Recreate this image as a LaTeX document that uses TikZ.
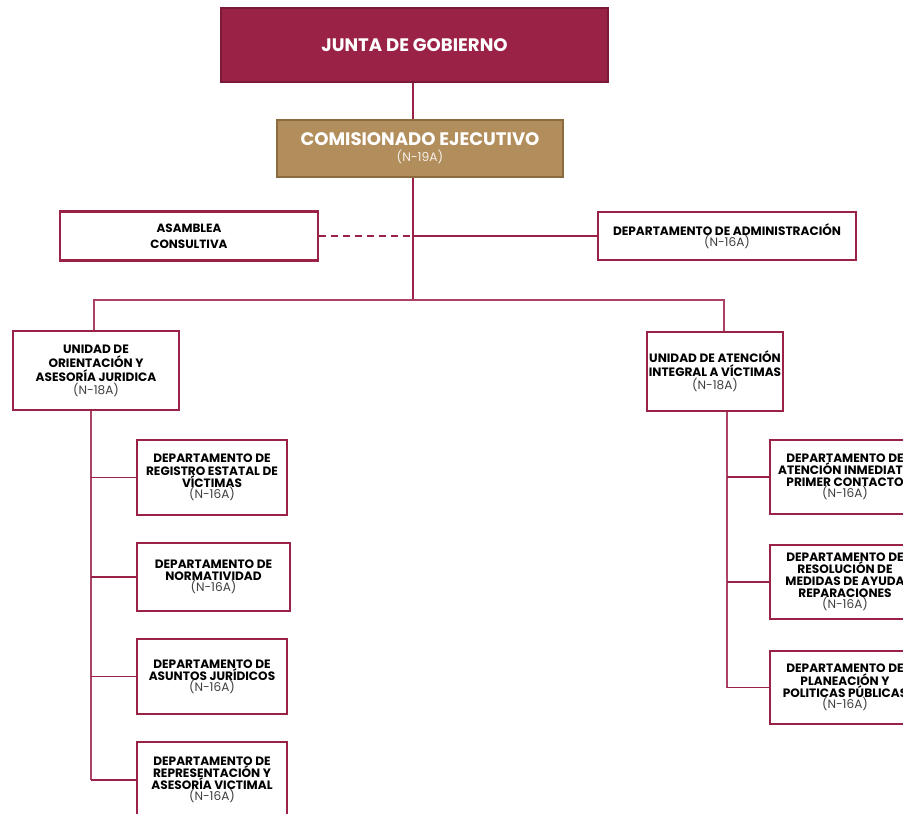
\documentclass[tikz,border=0pt]{standalone}
\usepackage{fontspec}
\setmainfont{Poppins}
\usepackage{tikz}
\usetikzlibrary{positioning}
\definecolor{guinda}{HTML}{9B2247}
\definecolor{guindaosc}{HTML}{7A1A38}
\definecolor{dorado}{HTML}{B38E5D}
\definecolor{doradoosc}{HTML}{8C6B3F}
\tikzstyle{cabeza} = [rectangle, inner sep=0pt, align=center, text=white, font=\bfseries\fontsize{10.3}{12}\selectfont]
\tikzstyle{caja} = [rectangle, draw=guinda, line width=1.3pt, fill=white, inner sep=0pt, align=center]
\tikzstyle{unidad} = [caja, minimum height=79*0.02cm, font=\bfseries\fontsize{6.9}{7.9}\selectfont]
\tikzstyle{depto} = [caja, minimum width=150*0.02cm, font=\bfseries\fontsize{6.9}{6.9}\selectfont]
\tikzstyle{linea} = [guinda, line width=1pt]
\tikzstyle{lineafina} = [guinda!85, line width=0.7pt]
\newcommand{\nivel}[1]{\\[-0.5pt]{\mdseries\color{black!75}(#1)}}

\begin{document}
\begin{tikzpicture}[x=0.02cm, y=-0.02cm]
	\useasboundingbox (0,0) rectangle (903,814);
	\clip (0,0) rectangle (903,814);
	
	\node (junta) [cabeza, fill=guinda, draw=guindaosc, line width=1.2pt, minimum width=387*0.02cm, minimum height=74*0.02cm] at (414.5,45) {JUNTA DE GOBIERNO};
	\node (comis) [cabeza, fill=dorado, draw=doradoosc, line width=1.2pt, minimum width=286*0.02cm, minimum height=57*0.02cm] at (420,148.5) {
		COMISIONADO EJECUTIVO\\[-3pt]
		{\mdseries\fontsize{7}{8}\selectfont\color{white!85!dorado}(N-19A)}};
	
	\node (asamblea) [caja, minimum width=258*0.02cm, minimum height=49*0.02cm, font=\bfseries\fontsize{6.8}{9}\selectfont] at (189,236) {
		ASAMBLEA\\CONSULTIVA};
	\node (admin) [caja, minimum width=258*0.02cm, minimum height=48*0.02cm, font=\bfseries\fontsize{6.9}{6.9}\selectfont] at (727,236) {
		DEPARTAMENTO DE ADMINISTRACIÓN\nivel{N-16A}};
	
	\node (orienta) [unidad, minimum width=166*0.02cm] at (96,370.5) {
		UNIDAD DE\\ORIENTACIÓN Y\\ASESORÍA JURIDICA\nivel{N-18A}};
	\node (atencion) [unidad, minimum width=136*0.02cm] at (715,371.5) {
		UNIDAD DE ATENCIÓN\\INTEGRAL A VÍCTIMAS\nivel{N-18A}};
	
	% departamentos de la unidad de orientacion
	\node (registro) [depto, minimum height=75*0.02cm] at (212,477.5) {
		DEPARTAMENTO DE\\REGISTRO ESTATAL DE\\VÍCTIMAS\nivel{N-16A}};
	\node (normas) [depto, minimum width=153*0.02cm, minimum height=68*0.02cm] at (213.5,577) {
		DEPARTAMENTO DE\\NORMATIVIDAD\nivel{N-16A}};
	\node (asuntos) [depto, minimum height=75*0.02cm] at (212,676.5) {
		DEPARTAMENTO DE\\ASUNTOS JURÍDICOS\nivel{N-16A}};
	\node (represent) [depto, minimum height=76*0.02cm] at (212,780) {
		DEPARTAMENTO DE\\REPRESENTACIÓN Y\\ASESORÍA VICTIMAL\nivel{N-16A}};
	
	% departamentos de la unidad de atencion
	\node (inmediata) [depto, minimum height=74*0.02cm] at (845,477) {
		DEPARTAMENTO DE\\ATENCIÓN INMEDIATA\\PRIMER CONTACTO\nivel{N-16A}};
	\node (medidas) [depto, minimum height=74*0.02cm] at (845,582) {
		DEPARTAMENTO DE\\RESOLUCIÓN DE\\MEDIDAS DE AYUDA\\REPARACIONES\nivel{N-16A}};
	\node (planea) [depto, minimum height=73*0.02cm] at (845,687.5) {
		DEPARTAMENTO DE\\PLANEACIÓN Y\\POLITICAS PÚBLICAS\nivel{N-16A}};
	
	\coordinate (bus) at (413,300);
	\coordinate (lbus) at (94,300);
	\coordinate (rbus) at (724,300);
	\coordinate (lspine) at (91,0);
	\coordinate (rspine) at (727,0);
	
	\draw [linea, line width=1.2pt] (junta.south -| bus) -- (comis.north -| bus);
	\draw [linea] (comis.south -| bus) -- (bus);
	\draw [linea, dash pattern=on 4pt off 2.8pt] (asamblea.east) -- (asamblea.east -| bus);
	\draw [linea] (asamblea.east -| bus) -- (admin.west);
	\draw [lineafina] (lbus |- orienta.north) -- (lbus) -- (rbus) -- (rbus |- atencion.north);
	
	\draw [lineafina] (lspine |- orienta.south) -- (lspine |- represent.west);
	\foreach \d in {registro, normas, asuntos, represent}
		\draw [linea] (lspine |- \d.west) -- (\d.west);
	\draw [lineafina] (rspine |- atencion.south) -- (rspine |- planea.west);
	\foreach \d in {inmediata, medidas, planea}
		\draw [linea] (rspine |- \d.west) -- (\d.west);
\end{tikzpicture}
\end{document}
